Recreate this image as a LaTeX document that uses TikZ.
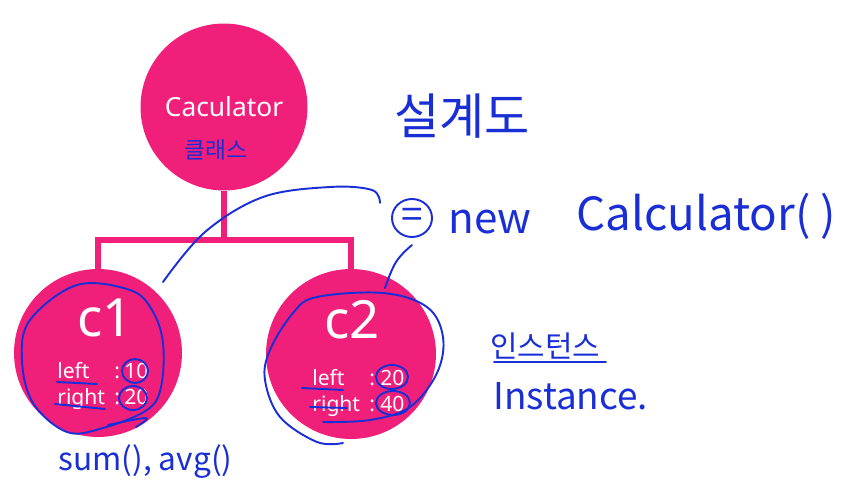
\documentclass[tikz,border=0pt]{standalone}
\usepackage{fontspec}
\setmainfont{Noto Sans}
\newfontfamily\hand{Noto Sans CJK KR}
\definecolor{hotpink}{HTML}{F0207A}
\definecolor{pen}{HTML}{1A2ED6}
\begin{document}
\begin{tikzpicture}[x=0.02cm,y=-0.02cm,
  obj/.style={circle,fill=hotpink,inner sep=0pt,text=white},
  field/.style={text=white,anchor=base west,inner sep=0pt,font=\fontsize{12}{14}\selectfont},
  ink/.style={draw=pen,line width=1.1pt,line cap=round,line join=round},
  note/.style={text=pen,inner sep=0pt}]
\useasboundingbox (0,0) rectangle (842,487);
% class and its two objects
\node[obj,minimum size=3.34cm,font=\fontsize{15}{18}\selectfont] (calc) at (224,107) {Caculator};
\node[obj,minimum size=3.36cm] (c1) at (98,353) {};
\node[obj,minimum size=3.4cm] (c2) at (351,354) {};
\coordinate (bar) at (224,240);
\draw[hotpink,line width=3pt] (calc.south) -- (calc.south |- bar);
\draw[hotpink,line width=3.4pt] (c1.north) |- (bar) -| (c2.north);
% object contents
\node[text=white,font=\fontsize{30}{34}\selectfont] (c1name) at (105,318) {c1};
\node[field] (c1left) at (57,378) {left};
\node[field] (c1lc) at (114,378) {:};
\node[field] (c1lv) at (124,378) {10};
\node[field] (c1right) at (57,404) {right};
\node[field] (c1rc) at (114,404) {:};
\node[field] (c1rv) at (124,404) {20};
\node[text=white,font=\fontsize{30}{34}\selectfont] (c2name) at (352,320) {c2};
\node[field] (c2left) at (312,385) {left};
\node[field] (c2lc) at (369,385) {:};
\node[field] (c2lv) at (380,385) {20};
\node[field] (c2right) at (312,411) {right};
\node[field] (c2rc) at (369,411) {:};
\node[field] (c2rv) at (380,411) {40};
% handwritten notes
\node[note,font=\hand\fontsize{13}{15}\selectfont] (cls) at (216,150) {클래스};
\node[note,font=\hand\fontsize{28}{32}\selectfont] (plan) at (462,116) {설계도};
\node[note,font=\hand\fontsize{22}{26}\selectfont] (eq) at (412,218) {=};
\draw[ink] (eq) ellipse (20 and 19);
\node[note,font=\hand\fontsize{24}{28}\selectfont,anchor=west] (newkw) at (448,222) {new};
\node[note,font=\hand\fontsize{26}{30}\selectfont,anchor=west] (ctor) at (576,216) {Calculator( )};
\node[note,font=\hand\fontsize{17}{20}\selectfont,anchor=west] (inst) at (490,346) {인스턴스};
\draw[ink] (inst.south west) ++(4,2) -- ++(112,0);
\node[note,font=\hand\fontsize{21}{24}\selectfont,anchor=west] (instance) at (493,396) {Instance.};
\node[note,font=\hand\fontsize{18}{22}\selectfont,anchor=west] (methods) at (58,462) {sum(), avg()};
% pen strokes
\draw[ink] plot[smooth,tension=0.6] coordinates {(163,282) (205,232) (263,197) (330,187) (372,190) (380,203)};
\draw[ink] plot[smooth,tension=0.7] coordinates {(412,245) (396,262) (385,288)};
\draw[ink] plot[smooth cycle,tension=0.6] coordinates {(77,285) (130,290) (152,310) (163,343) (161,387) (147,410) (103,428) (67,432) (33,403) (22,360) (30,320)};
\draw[ink] plot[smooth,tension=0.6] coordinates {(108,425) (146,418) (136,427)};
\draw[ink] (135,371) ellipse (13 and 12);
\draw[ink] (133,398) ellipse (14 and 12);
\draw[ink] (57,382) -- (97,384);
\draw[ink] (55,404) -- (105,409);
\draw[ink] plot[smooth,tension=0.6] coordinates {(323,422) (370,420) (410,407) (437,373) (443,337) (427,307) (383,293) (317,297) (293,313) (270,350) (265,380) (280,417) (317,442) (343,443)};
\draw[ink] (392,377) ellipse (16 and 12);
\draw[ink] (393,403) ellipse (17 and 12);
\draw[ink] (302,388) -- (343,390);
\draw[ink] (310,407) -- (347,408);
\end{tikzpicture}
\end{document}
